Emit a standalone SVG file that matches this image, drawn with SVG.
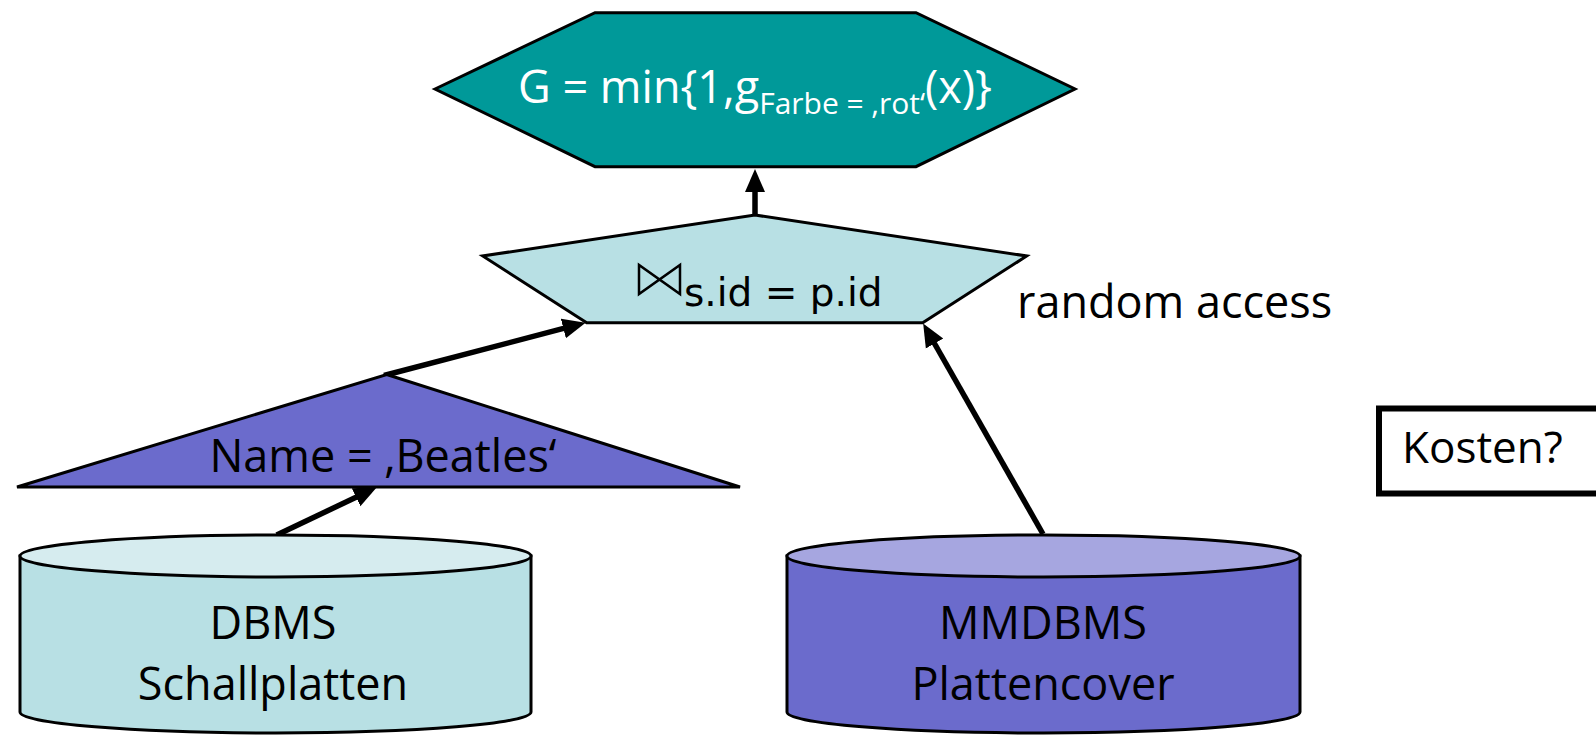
<svg xmlns="http://www.w3.org/2000/svg" width="1596" height="739" viewBox="0 0 1596 739">
<style>
.shape{stroke:#000;stroke-width:3;stroke-linejoin:miter}
.lbl{font-family:"Open Sans","Liberation Sans",sans-serif;fill:#000}
.conn{stroke:#000;stroke-width:5.5;fill:none}
</style>
<defs>
<marker id="ah" markerUnits="userSpaceOnUse" markerWidth="26" markerHeight="22" viewBox="0 -11 26 22" refX="11" refY="0" orient="auto">
<path d="M0,-10 L23,0 L0,10 z" fill="#000"/>
</marker>
</defs>
<rect width="1596" height="739" fill="#fff"/>
<g id="connectors">
<line class="conn" x1="755" y1="216" x2="755" y2="181" marker-end="url(#ah)"/>
<line class="conn" x1="384" y1="375.5" x2="574" y2="325.7" marker-end="url(#ah)"/>
<line class="conn" x1="276.7" y1="535" x2="366" y2="492.5" marker-end="url(#ah)"/>
<line class="conn" x1="1043" y1="534" x2="929.1" y2="334" marker-end="url(#ah)"/>
</g>
<g id="aggregate">
<polygon class="shape" fill="#009999" points="435,89 595,12.7 916,12.7 1075,89 916,166.7 595,166.7"/>
<text class="lbl" x="755" y="103" text-anchor="middle" font-size="45" style="fill:#fff">G = min{1,g<tspan font-size="30" dy="11">Farbe = ‚rot‘</tspan><tspan dy="-11">(x)}</tspan></text>
</g>
<g id="join">
<polygon class="shape" fill="#b8e0e4" points="755,215 1026.7,256 922.7,322.7 586.7,322.7 482.7,256"/>
<path d="M639,265 L639,294 L680,265 L680,294 Z" fill="none" stroke="#000" stroke-width="2.5" stroke-linejoin="miter"/>
<text x="684" y="306" font-family="DejaVu Sans,sans-serif" font-size="39" fill="#000">s.id = p.id</text>
</g>
<text id="random-access" class="lbl" x="1017" y="318" font-size="45">random access</text>
<g id="selection">
<polygon class="shape" fill="#6b6bcc" points="386.7,374.5 740,487 17,487"/>
<text class="lbl" x="383" y="472" text-anchor="middle" font-size="45">Name = ‚Beatles‘</text>
</g>
<g id="dbms">
<path class="shape" fill="#b8e0e4" d="M20,556 L20,712 A255.5,21 0 0 0 531,712 L531,556 Z"/>
<ellipse class="shape" fill="#d6ecef" cx="275.5" cy="556" rx="255.5" ry="21"/>
<text class="lbl" text-anchor="middle" font-size="45"><tspan x="273" y="639">DBMS</tspan><tspan x="273" y="700">Schallplatten</tspan></text>
</g>
<g id="mmdbms">
<path class="shape" fill="#6b6bcc" d="M787,556 L787,712 A256.5,21 0 0 0 1300,712 L1300,556 Z"/>
<ellipse class="shape" fill="#a6a6e0" cx="1043.5" cy="556" rx="256.5" ry="21"/>
<text class="lbl" text-anchor="middle" font-size="45"><tspan x="1043" y="639">MMDBMS</tspan><tspan x="1043" y="700">Plattencover</tspan></text>
</g>
<g id="kosten">
<rect x="1379" y="408.5" width="240" height="85" fill="#fff" stroke="#000" stroke-width="6"/>
<text class="lbl" x="1402" y="463" font-size="44">Kosten?</text>
</g>
</svg>
